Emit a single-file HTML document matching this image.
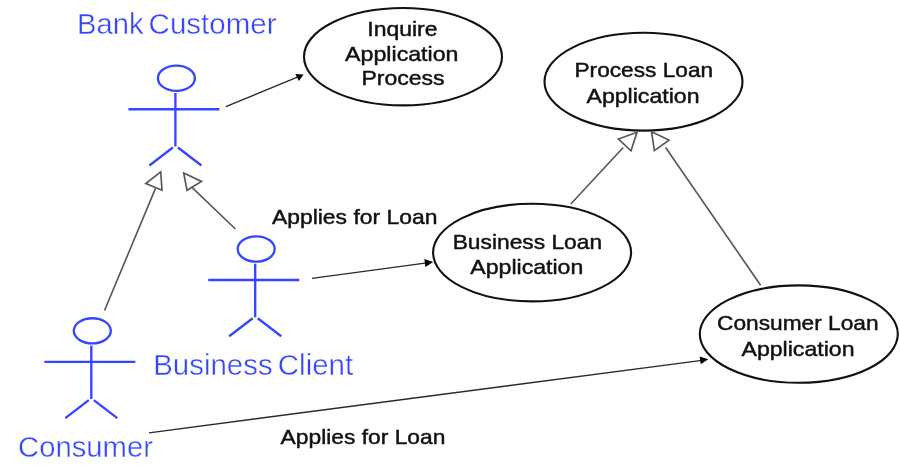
<!DOCTYPE html>
<html>
<head>
<meta charset="utf-8">
<title>Use Case Diagram</title>
<style>
html,body{margin:0;padding:0;background:#fff;}
body{width:900px;height:466px;overflow:hidden;font-family:"Liberation Sans",sans-serif;}
svg{display:block;will-change:transform;opacity:0.999;filter:blur(0.45px);}
text{font-family:"Liberation Sans",sans-serif;}
.bl{fill:none;stroke:#3446ff;stroke-width:2.35;stroke-linecap:butt;}
.bt{fill:#3446ff;font-size:29px;stroke:#fff;stroke-width:0.4px;}
.kt{fill:#111;font-size:20.6px;stroke:#111;stroke-width:0.45px;}
.uc{fill:#fff;stroke:#111;stroke-width:2.1;}
.gl{fill:none;stroke:#585858;stroke-width:1.65;}
.gh{fill:#fff;stroke:#585858;stroke-width:1.7;stroke-linejoin:miter;}
.al{fill:none;stroke:#2a2a2a;stroke-width:1.35;}
.ah{fill:#000;stroke:none;}
</style>
</head>
<body>
<svg width="900" height="466" viewBox="0 0 900 466">
<defs>
  <g id="actor">
    <ellipse cx="1" cy="-30.8" rx="18.5" ry="12.6" class="bl"/>
    <path d="M0 -16V37.5 M-47 0.2H44 M-2.5 38.5L-26 56.5 M2.5 38.5L26 56.5" class="bl"/>
  </g>
</defs>

<!-- actors -->
<use href="#actor" x="175.4" y="109"/>
<use href="#actor" x="255.2" y="279.8"/>
<use href="#actor" x="91.3" y="361.6"/>

<!-- actor labels -->
<g class="bt">
<text id="t_bank" x="77" y="33.6" textLength="66.5" lengthAdjust="spacingAndGlyphs">Bank</text>
<text id="t_customer" x="148.6" y="33.6" textLength="128" lengthAdjust="spacingAndGlyphs">Customer</text>
<text id="t_business" x="153.2" y="375.2" textLength="119.5" lengthAdjust="spacingAndGlyphs">Business</text>
<text id="t_client" x="277.8" y="375.2" textLength="75.4" lengthAdjust="spacingAndGlyphs">Client</text>
<text id="t_consumer" x="18" y="456.8" textLength="135" lengthAdjust="spacingAndGlyphs">Consumer</text>
</g>

<!-- use cases -->
<ellipse class="uc" cx="403" cy="56.7" rx="99" ry="48.7"/>
<ellipse class="uc" cx="643.5" cy="81.7" rx="99" ry="48.9"/>
<ellipse class="uc" cx="532.1" cy="252.6" rx="99" ry="48.8"/>
<ellipse class="uc" cx="798.8" cy="334.1" rx="99" ry="48.7"/>

<!-- use case text -->
<g class="kt" text-anchor="middle">
<text x="402.4" y="36.2" textLength="70.2" lengthAdjust="spacingAndGlyphs">Inquire</text>
<text x="401.8" y="61.3" textLength="113.4" lengthAdjust="spacingAndGlyphs">Application</text>
<text x="403" y="85.2" textLength="83.2" lengthAdjust="spacingAndGlyphs">Process</text>

<text x="643.8" y="77.3" textLength="138.6" lengthAdjust="spacingAndGlyphs">Process Loan</text>
<text x="643" y="102.8" textLength="113" lengthAdjust="spacingAndGlyphs">Application</text>

<text x="527.4" y="249.0" textLength="149.4" lengthAdjust="spacingAndGlyphs">Business Loan</text>
<text x="526.8" y="274.0" textLength="113" lengthAdjust="spacingAndGlyphs">Application</text>

<text x="797.8" y="329.7" textLength="161.5" lengthAdjust="spacingAndGlyphs">Consumer Loan</text>
<text x="798" y="355.5" textLength="113" lengthAdjust="spacingAndGlyphs">Application</text>

<text x="354.7" y="224.1" textLength="165.5" lengthAdjust="spacingAndGlyphs">Applies for Loan</text>
<text x="363" y="444.2" textLength="164.8" lengthAdjust="spacingAndGlyphs">Applies for Loan</text>
</g>

<!-- generalization: consumer -> bank customer -->
<path class="gl" d="M104.5 310.5L155.5 188.4"/>
<path class="gh" d="M160.7 171.8L145.8 183.6L162 190.3Z"/>
<!-- generalization: business client -> bank customer -->
<path class="gl" d="M235.4 229L192 187.4"/>
<path class="gh" d="M183.7 172.9L201.5 181.4L187 190.3Z"/>
<!-- generalization: business loan -> process loan -->
<path class="gl" d="M570.8 204L623.2 147.5"/>
<path class="gh" d="M637 132.3L618.5 139L631 150.8Z"/>
<!-- generalization: consumer loan -> process loan -->
<path class="gl" d="M760.6 285.2L665.6 147.5"/>
<path class="gh" d="M651.5 131.7L669 140.1L654.4 150.6Z"/>

<!-- association arrows -->
<path class="al" d="M225.8 106.7L298 76.8"/>
<path class="ah" d="M303.6 74.5L295.3 74L298.9 80.9Z"/>

<path class="al" d="M312 278.3L427 262.8"/>
<path class="ah" d="M433.2 261.9L424.4 259.1L425.4 266.9Z"/>

<path class="al" d="M149 432.8L702 360.4"/>
<path class="ah" d="M708.3 359.3L699.7 356.5L700.7 364.2Z"/>
</svg>
</body>
</html>
